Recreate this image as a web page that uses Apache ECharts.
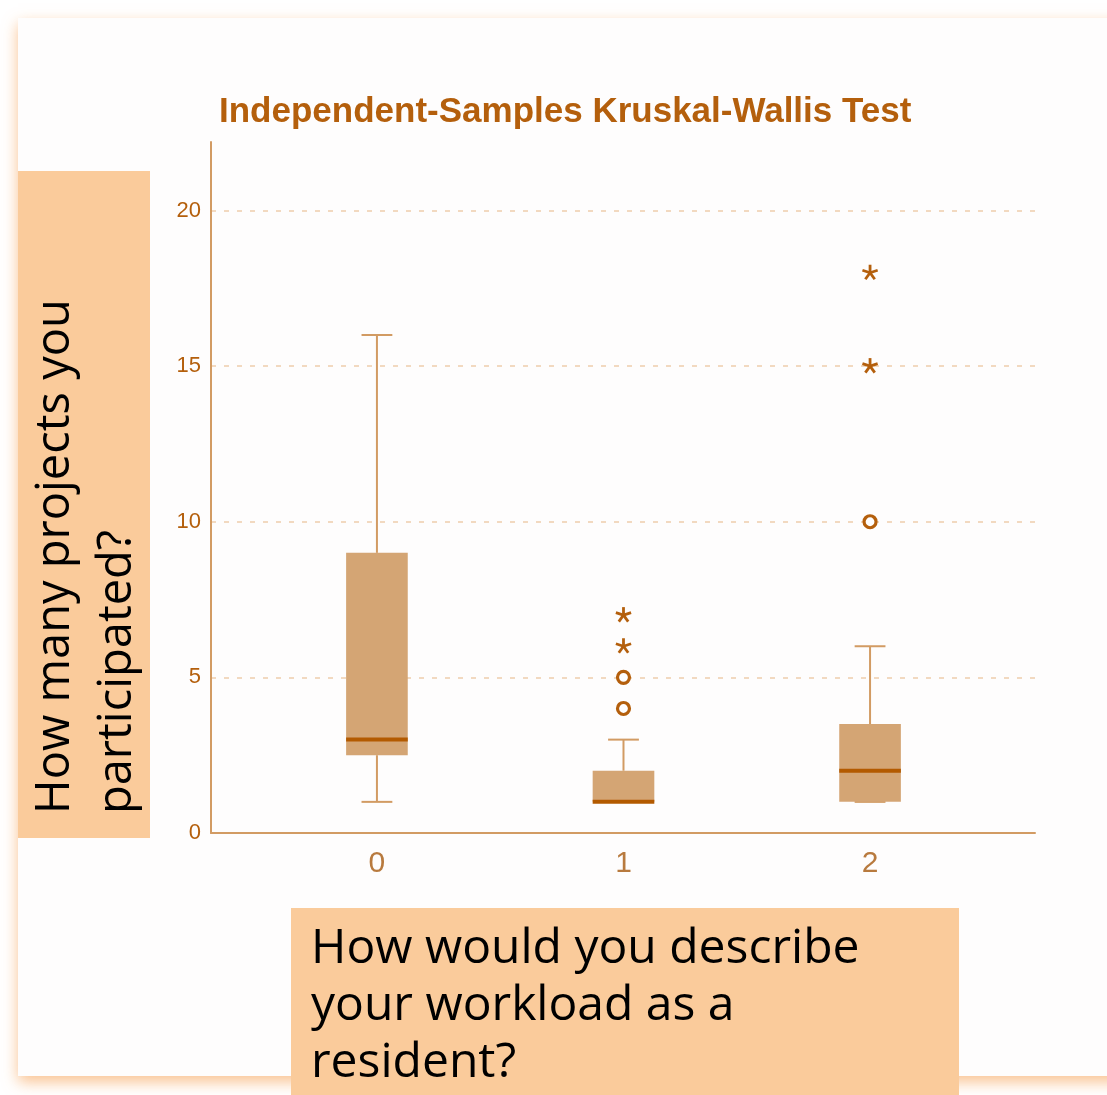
<!DOCTYPE html>
<html>
<head>
<meta charset="utf-8">
<script src="https://cdn.jsdelivr.net/npm/echarts@6/dist/echarts.min.js"></script>
<style>
  html, body { margin: 0; padding: 0; background: #ffffff; }
  #chart { width: 1107px; height: 1095px; }
</style>
</head>
<body>
<div id="chart"></div>
<script>
// box summaries per group (workload answer 0, 1, 2)
const groups = [0, 1, 2];
const mins = [1, 1, 1];
const q1s = [2.5, 1, 1];
const medians = [3, 1, 2];
const q3s = [9, 2, 3.5];
const maxs = [16, 3, 6];

// outliers: [group, value]
const circleOutliers = [[1, 4], [1, 5], [2, 10]];
const starOutliers = [[1, 6], [1, 7], [2, 15], [2, 18]];

const xTickValues = [0, 1, 2];

const titleText = 'Independent-Samples Kruskal-Wallis Test';
const yTitle = 'How many projects you\nparticipated?';
const xTitle = 'How would you describe\nyour workload as a\nresident?';

const brown = '#b45f0c';
const whiskerColor = '#d29b63';
const boxFill = '#d4a574';
const medianColor = '#b35a00';

const boxData = groups.map((g, i) => [g, mins[i], q1s[i], medians[i], q3s[i], maxs[i]]);

function renderBox(params, api) {
  const x = api.value(0);
  const lo = api.coord([x, api.value(1)]);
  const q1 = api.coord([x, api.value(2)]);
  const med = api.coord([x, api.value(3)]);
  const q3 = api.coord([x, api.value(4)]);
  const hi = api.coord([x, api.value(5)]);
  const boxW = api.size([0.25, 0])[0];
  const capW = api.size([0.125, 0])[0];
  const cx = lo[0];
  const wStyle = { stroke: whiskerColor, lineWidth: 2 };
  return {
    type: 'group',
    children: [
      { type: 'line', shape: { x1: cx, y1: hi[1], x2: cx, y2: q3[1] }, style: wStyle },
      { type: 'line', shape: { x1: cx, y1: q1[1], x2: cx, y2: lo[1] }, style: wStyle },
      { type: 'line', shape: { x1: cx - capW / 2, y1: hi[1], x2: cx + capW / 2, y2: hi[1] }, style: wStyle },
      { type: 'line', shape: { x1: cx - capW / 2, y1: lo[1], x2: cx + capW / 2, y2: lo[1] }, style: wStyle },
      { type: 'rect', shape: { x: cx - boxW / 2, y: q3[1], width: boxW, height: q1[1] - q3[1] }, style: { fill: boxFill } },
      { type: 'line', shape: { x1: cx - boxW / 2, y1: med[1], x2: cx + boxW / 2, y2: med[1] }, style: { stroke: medianColor, lineWidth: 4 } }
    ]
  };
}

function renderStar(params, api) {
  const p = api.coord([api.value(0), api.value(1)]);
  const arms = [];
  for (let k = 0; k < 5; k++) {
    const a = -Math.PI / 2 + k * 2 * Math.PI / 5;
    arms.push({
      type: 'line',
      shape: { x1: p[0], y1: p[1], x2: p[0] + 8 * Math.cos(a), y2: p[1] + 8 * Math.sin(a) },
      style: { stroke: brown, lineWidth: 2.8 }
    });
  }
  return { type: 'group', children: arms };
}

const chart = echarts.init(document.getElementById('chart'));
chart.setOption({
  animation: false,
  title: {
    text: titleText,
    left: 214,
    top: 90,
    textStyle: { fontFamily: 'Liberation Sans', fontWeight: 'bold', fontSize: 35, color: brown }
  },
  grid: { left: 211, right: 72, top: 142, bottom: 262 },
  xAxis: {
    type: 'value',
    min: -0.673,
    max: 2.669,
    axisLine: { lineStyle: { color: whiskerColor, width: 2 } },
    axisTick: { show: false },
    splitLine: { show: false },
    axisLabel: {
      customValues: xTickValues,
      margin: 16,
      fontFamily: 'Liberation Sans',
      fontSize: 30,
      color: '#b87a3e'
    }
  },
  yAxis: {
    type: 'value',
    min: 0,
    max: 22.2,
    interval: 5,
    axisLine: { show: true, onZero: false, lineStyle: { color: whiskerColor, width: 2 } },
    axisTick: { show: false },
    axisLabel: {
      showMaxLabel: false,
      margin: 10,
      padding: [6, 0, 0, 0],
      fontFamily: 'Liberation Sans',
      fontSize: 22,
      color: brown
    },
    splitLine: {
      show: true,
      showMinLine: false,
      showMaxLine: false,
      lineStyle: { type: [5, 8], color: '#f2d9c0', width: 2 }
    }
  },
  graphic: [
    {
      type: 'rect', z: -10,
      shape: { x: 18, y: 18, width: 1110, height: 1058 },
      style: { fill: '#fefdfd', shadowBlur: 14, shadowOffsetY: 6, shadowColor: 'rgba(248,170,100,0.7)' }
    },
    {
      type: 'group', z: 100,
      children: [
        { type: 'rect', shape: { x: 18, y: 171, width: 132, height: 667 }, style: { fill: '#facb9b' } },
        {
          type: 'text', x: 25, y: 814, rotation: Math.PI / 2,
          style: { text: yTitle, fontFamily: 'Open Sans', fontSize: 47, lineHeight: 62, fill: '#000', align: 'left', verticalAlign: 'top' }
        }
      ]
    },
    {
      type: 'group', z: 100,
      children: [
        { type: 'rect', shape: { x: 291, y: 908, width: 668, height: 190 }, style: { fill: '#facb9b' } },
        {
          type: 'text', x: 311, y: 921,
          style: { text: xTitle, fontFamily: 'Open Sans', fontSize: 48, lineHeight: 57, fill: '#000', align: 'left', verticalAlign: 'top' }
        }
      ]
    }
  ],
  series: [
    {
      type: 'custom',
      renderItem: renderBox,
      data: boxData,
      encode: { x: 0, y: [1, 2, 3, 4, 5] },
      z: 2
    },
    {
      type: 'scatter',
      data: circleOutliers,
      symbol: 'circle',
      symbolSize: 12,
      itemStyle: { color: '#fefdfd', borderColor: brown, borderWidth: 3.2, opacity: 1 },
      z: 3
    },
    {
      type: 'custom',
      renderItem: renderStar,
      data: starOutliers,
      z: 3
    }
  ]
});
</script>
</body>
</html>
